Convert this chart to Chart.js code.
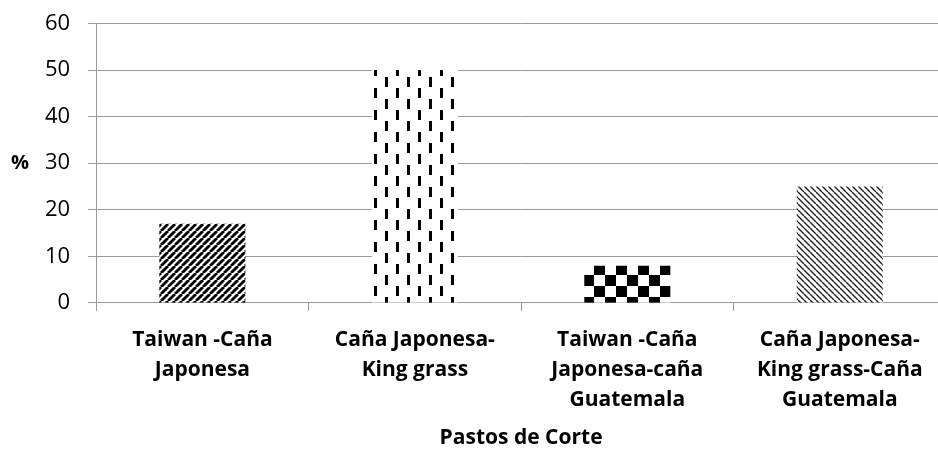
<!DOCTYPE html>
<html>
<head>
<meta charset="utf-8">
<script src="https://cdn.jsdelivr.net/npm/chart.js@4"></script>
<style>
  html, body { margin: 0; padding: 0; background: #fff; overflow: hidden; }
  #wrap { width: 960px; height: 453px; }
</style>
</head>
<body>
<div id="wrap"><canvas id="myChart"></canvas></div>
<script>
// datos
var categorias = [
  ["Taiwan -Caña", "Japonesa"],
  ["Caña Japonesa-", "King grass"],
  ["Taiwan -Caña", "Japonesa-caña", "Guatemala"],
  ["Caña Japonesa-", "King grass-Caña", "Guatemala"]
];
var porcentajes = [17, 50, 8, 25];
var yTicks = [0, 10, 20, 30, 40, 50, 60];
var xTitulo = "Pastos de Corte";
var yTitulo = "%";

function tile(size, draw) {
  var c = document.createElement("canvas");
  c.width = size; c.height = size;
  var g = c.getContext("2d");
  g.fillStyle = "#fff";
  g.fillRect(0, 0, size, size);
  draw(g, size);
  return document.getElementById("myChart").getContext("2d").createPattern(c, "repeat");
}

// rayas anchas /
var p1 = tile(7, function (g, s) {
  g.strokeStyle = "#000"; g.lineWidth = 2.8;
  for (var k = -1; k <= 1; k++) {
    g.beginPath(); g.moveTo(k * s, s); g.lineTo(k * s + s, 0); g.stroke();
  }
});
// guiones verticales
var p2 = tile(22, function (g, s) {
  g.fillStyle = "#000";
  g.fillRect(0, 0, 3, 10);
  g.fillRect(11, 11, 3, 10);
});
// tablero
var p3 = tile(22, function (g, s) {
  g.fillStyle = "#000";
  g.fillRect(0, 0, 11, 11);
  g.fillRect(11, 11, 11, 11);
});
// rayas finas \
var p4 = tile(6, function (g, s) {
  g.strokeStyle = "#222"; g.lineWidth = 1.4;
  for (var k = -1; k <= 1; k++) {
    g.beginPath(); g.moveTo(k * s, 0); g.lineTo(k * s + s, s); g.stroke();
  }
});

var yLabel = {
  id: "yLabel",
  afterDraw: function (chart) {
    var ctx = chart.ctx;
    var y = chart.scales.y;
    ctx.save();
    ctx.font = "bold 20px 'Open Sans'";
    ctx.fillStyle = "#000";
    ctx.textAlign = "center";
    ctx.textBaseline = "middle";
    ctx.fillText(yTitulo, 20, (y.top + y.bottom) / 2);
    ctx.restore();
  }
};

var ctx = document.getElementById("myChart");
var myChart = new Chart(ctx, {
  type: 'bar',
  data: {
    labels: categorias,
    datasets: [{
      data: porcentajes,
      backgroundColor: [p1, p2, p3, p4],
      borderWidth: 0,
      barPercentage: 1,
      categoryPercentage: 0.405
    }]
  },
  options: {
    responsive: true,
    maintainAspectRatio: false,
    animation: false,
    layout: { padding: { top: 19, right: 14, left: 27, bottom: 0 } },
    plugins: { legend: { display: false }, tooltip: { enabled: false } },
    scales: {
      x: {
        grid: { drawOnChartArea: false, offset: true, color: "#999", tickLength: 8, tickColor: "#999" },
        border: { color: "#999" },
        ticks: { color: "#000", font: { family: "Open Sans", size: 21, weight: "bold", lineHeight: 1.43 }, padding: 14, maxRotation: 0, autoSkip: false },
        title: { display: true, text: xTitulo, color: "#000", font: { family: "Open Sans", size: 21, weight: "bold", lineHeight: 1.43 }, padding: { top: -6, bottom: 0 } }
      },
      y: {
        min: 0, max: 60,
        afterBuildTicks: function (axis) { axis.ticks = yTicks.map(function (v) { return { value: v }; }); },
        grid: { color: "#999", tickLength: 8, tickColor: "#999" },
        border: { color: "#999" },
        ticks: { color: "#000", font: { family: "Open Sans", size: 22, lineHeight: 0.5 }, padding: 18 }
      }
    }
  },
  plugins: [yLabel]
});
</script>
</body>
</html>
